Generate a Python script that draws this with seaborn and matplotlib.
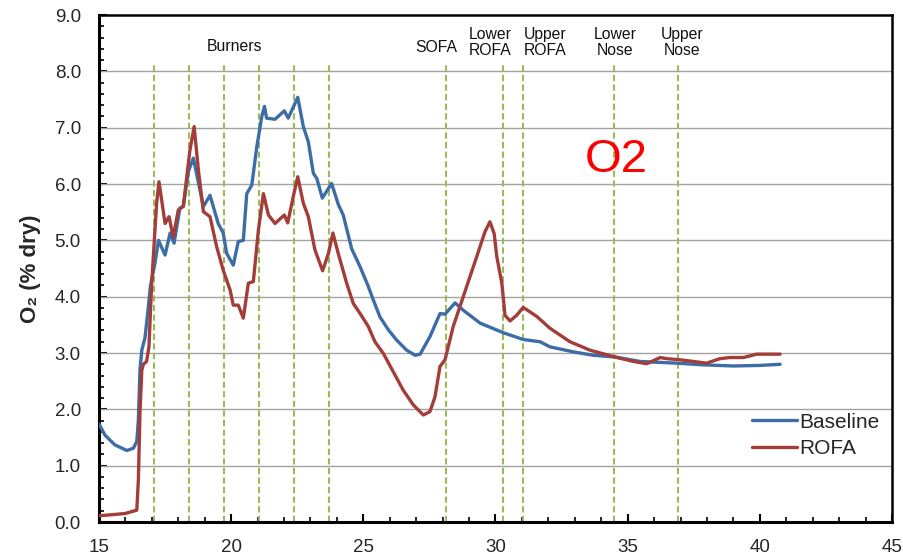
import numpy as np
import pandas as pd
import matplotlib
matplotlib.use("Agg")
import matplotlib.pyplot as plt
import seaborn as sns
from matplotlib.ticker import MultipleLocator, FormatStrFormatter

# ---- data ----
base_x = [15.0, 15.23, 15.6, 16.05, 16.3, 16.43, 16.49, 16.55, 16.62, 16.74, 16.84, 16.95, 17.12, 17.25,
          17.5, 17.69, 17.84, 18.06, 18.19, 18.38, 18.57, 18.95, 19.2, 19.51, 19.7, 19.83, 20.08,
          20.27, 20.46, 20.59, 20.78, 20.97, 21.16, 21.26, 21.34, 21.66, 22.01, 22.16, 22.52, 22.73,
          22.92, 23.11, 23.24, 23.45, 23.8, 24.06, 24.24, 24.56, 24.88, 25.19, 25.38, 25.63, 25.95,
          26.26, 26.64, 26.96, 27.15, 27.52, 27.9, 28.09, 28.47, 28.78, 29.42, 30.3, 31.05, 31.69,
          32.06, 32.95, 33.7, 34.52, 35.47, 36.86, 37.86, 39.0, 40.0, 40.77]
base_y = [1.74, 1.54, 1.37, 1.27, 1.31, 1.43, 1.81, 2.7, 3.05, 3.27, 3.7, 4.2, 4.6, 5.0,
          4.74, 5.13, 4.95, 5.57, 5.6, 6.22, 6.46, 5.6, 5.8, 5.3, 5.13, 4.77, 4.56,
          4.98, 5.0, 5.83, 5.98, 6.66, 7.2, 7.38, 7.17, 7.15, 7.3, 7.17, 7.54, 7.02,
          6.75, 6.19, 6.1, 5.75, 6.01, 5.63, 5.45, 4.85, 4.53, 4.18, 3.94, 3.64, 3.41,
          3.23, 3.05, 2.96, 2.98, 3.29, 3.7, 3.69, 3.89, 3.76, 3.53, 3.36, 3.24, 3.2,
          3.11, 3.02, 2.96, 2.93, 2.85, 2.82, 2.79, 2.77, 2.78, 2.8]

rofa_x = [15.0, 15.98, 16.43, 16.49, 16.55, 16.62, 16.68, 16.8, 16.89, 16.99, 17.18, 17.27, 17.5,
          17.65, 17.81, 18.0, 18.19, 18.44, 18.6, 18.76, 18.95, 19.2, 19.45, 19.7, 19.96, 20.08,
          20.27, 20.46, 20.65, 20.84, 21.03, 21.22, 21.41, 21.66, 22.01, 22.14, 22.35, 22.52, 22.73,
          22.92, 23.17, 23.46, 23.68, 23.85, 24.05, 24.37, 24.62, 24.88, 25.19, 25.44, 25.76, 26.13,
          26.51, 26.89, 27.27, 27.52, 27.71, 27.9, 28.09, 28.4, 28.78, 29.29, 29.6, 29.79, 29.95,
          30.05, 30.24, 30.36, 30.55, 30.8, 31.05, 31.56, 32.06, 32.82, 33.58, 34.52, 35.22, 35.72,
          35.91, 36.23, 36.48, 36.98, 37.49, 37.99, 38.49, 38.87, 39.38, 39.88, 40.77]
rofa_y = [0.11, 0.15, 0.21, 0.75, 1.93, 2.7, 2.8, 2.85, 3.11, 4.2, 5.66, 6.04, 5.3,
          5.42, 5.06, 5.54, 5.61, 6.6, 7.02, 6.25, 5.51, 5.42, 4.89, 4.47, 4.12, 3.85,
          3.85, 3.62, 4.24, 4.27, 5.18, 5.83, 5.45, 5.3, 5.45, 5.31, 5.78, 6.13, 5.66,
          5.42, 4.83, 4.46, 4.77, 5.13, 4.77, 4.24, 3.88, 3.7, 3.47, 3.2, 2.99, 2.67,
          2.34, 2.08, 1.9, 1.96, 2.22, 2.76, 2.88, 3.47, 4.0, 4.71, 5.15, 5.33, 5.12,
          4.71, 4.24, 3.67, 3.57, 3.67, 3.81, 3.65, 3.44, 3.2, 3.05, 2.93, 2.85, 2.81,
          2.85, 2.92, 2.9, 2.88, 2.85, 2.82, 2.9, 2.92, 2.92, 2.98, 2.98]

series_names = ["Baseline", "ROFA"]
series_colors = ["#3C6DA7", "#A33D39"]

burner_x = [17.09, 18.39, 19.73, 21.07, 22.37, 23.69]
marker_x = [28.13, 30.30, 31.03, 34.50, 36.90]
label_text = ["Burners", "SOFA", "Lower\nROFA", "Upper\nROFA", "Lower\nNose", "Upper\nNose"]
label_x = [20.13, 27.75, 29.79, 31.87, 34.52, 37.06]
label_y = [8.45, 8.43, 8.52, 8.52, 8.52, 8.52]

x_ticks = [15, 20, 25, 30, 35, 40, 45]
y_ticks = [0, 1, 2, 3, 4, 5, 6, 7, 8, 9]

df = pd.concat([
    pd.DataFrame({"x": base_x, "y": base_y, "series": series_names[0]}),
    pd.DataFrame({"x": rofa_x, "y": rofa_y, "series": series_names[1]}),
])

sns.set_style("white")
plt.rcParams["font.family"] = ["Liberation Sans", "DejaVu Sans"]

fig = plt.figure(figsize=(9.04, 5.58), dpi=100)
ax = fig.add_axes([0.1095, 0.0645, 0.8772, 0.9085])

for gy in y_ticks[1:-1]:
    ax.axhline(gy, color="#A3A3A3", lw=1.0, zorder=1)

ax.vlines(burner_x + marker_x, 0, 8.15, colors="#9BBB59", linestyles=(0, (3, 1.6)), lw=1.5, zorder=2)

sns.lineplot(data=df, x="x", y="y", hue="series", palette=dict(zip(series_names, series_colors)),
             estimator=None, sort=False, lw=2.4, ax=ax, zorder=3,
             solid_joinstyle="round", solid_capstyle="round")

for t, tx, ty in zip(label_text, label_x, label_y):
    ax.text(tx, ty, t, ha="center", va="center", fontsize=11.3, color="#111111", linespacing=1.1)

ax.text(34.55, 6.43, "O2", color="#FF0000", fontsize=34, ha="center", va="center")

ax.set_xlim(15, 45)
ax.set_ylim(0, 9)
ax.set_xticks(x_ticks)
ax.set_yticks(y_ticks)
ax.yaxis.set_major_formatter(FormatStrFormatter("%.1f"))
ax.xaxis.set_minor_locator(MultipleLocator(1))
ax.yaxis.set_minor_locator(MultipleLocator(0.2))
ax.tick_params(axis="both", which="major", direction="in", length=6, width=1.5, labelsize=13.5, color="black")
ax.tick_params(axis="x", which="major", pad=12)
ax.tick_params(axis="y", which="major", pad=13)
ax.tick_params(axis="both", which="minor", direction="in", length=3.5, width=1.2, color="black")
ax.tick_params(axis="y", which="both", left=True)
ax.tick_params(axis="x", which="both", bottom=True)
for s in ax.spines.values():
    s.set_color("black")
    s.set_linewidth(1.8)
ax.spines["left"].set_linewidth(2.2)
ax.spines["bottom"].set_linewidth(2.2)

ax.set_xlabel("")
ax.set_ylabel("O\u2082 (% dry)", fontsize=16, fontweight="bold", labelpad=10)

leg = ax.legend(loc="lower right", bbox_to_anchor=(0.995, 0.11), frameon=False, fontsize=15,
                handlelength=2.15, handletextpad=0.12, labelspacing=0.35, borderaxespad=0)
for line in leg.get_lines():
    line.set_linewidth(2.4)

fig.savefig("out.png", dpi=100)
